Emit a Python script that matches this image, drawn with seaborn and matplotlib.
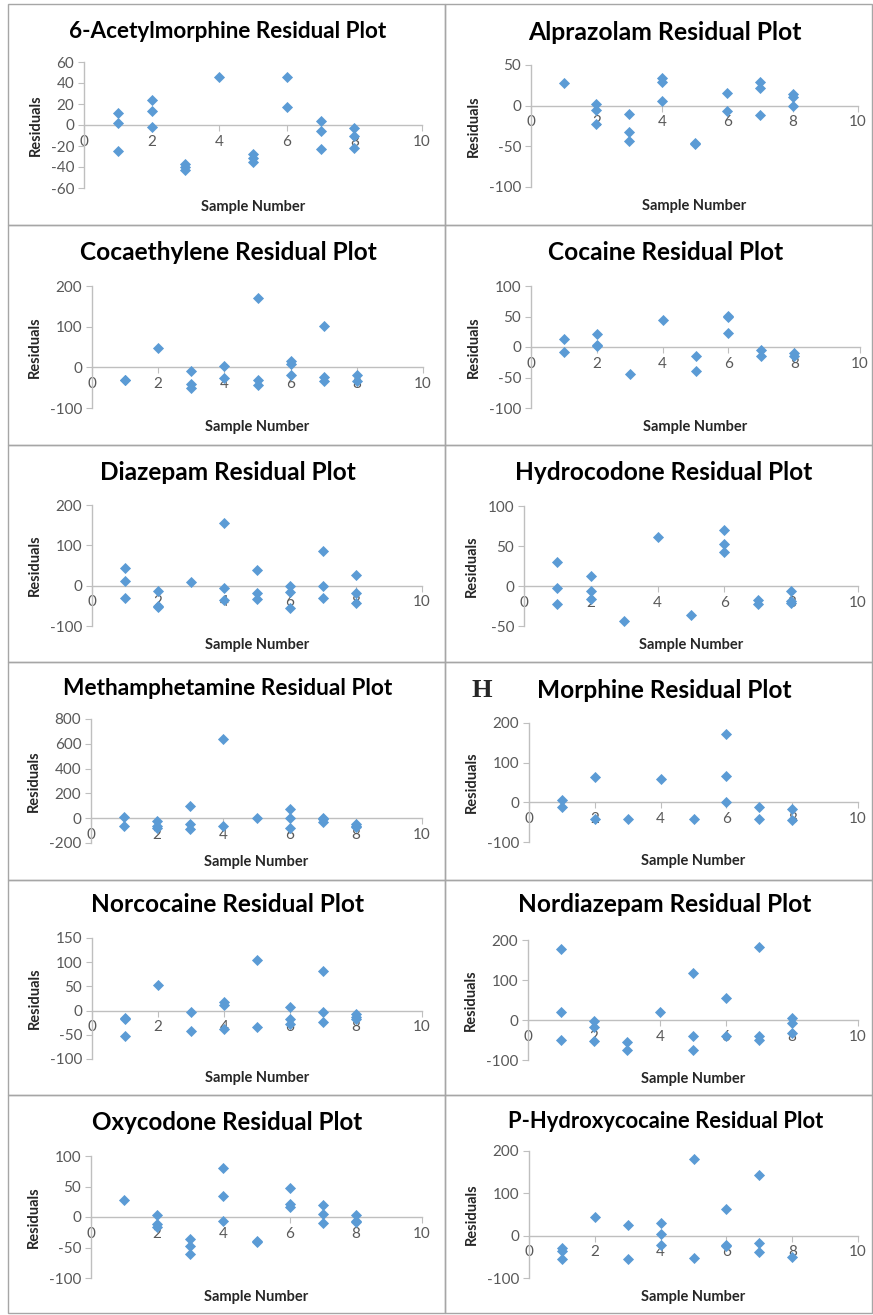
import matplotlib
matplotlib.use('Agg')
import matplotlib.pyplot as plt
import seaborn as sns
from matplotlib.patches import Rectangle

# residuals per sample number
acetylmorphine_x = [1, 1, 1, 2, 2, 2, 3, 3, 3, 4, 5, 5, 5, 6, 6, 7, 7, 7, 8, 8, 8]
acetylmorphine_y = [11, 2, -25, 24, 13, -2, -37, -40, -43, 46, -28, -31, -35, 46, 17, 4, -6, -23, -3, -10, -22]

alprazolam_x = [1, 2, 2, 2, 3, 3, 3, 4, 4, 4, 5, 5, 6, 6, 7, 7, 7, 8, 8, 8]
alprazolam_y = [28, 2, -5, -22, -10, -32, -43, 34, 29, 6, -46, -47, 15, -6, 29, 22, -12, 14, 11, 0]

cocaethylene_x = [1, 1, 2, 3, 3, 3, 4, 4, 5, 5, 5, 6, 6, 6, 7, 7, 7, 8, 8]
cocaethylene_y = [-31, -32, 47, -9, -42, -50, 3, -25, 171, -31, -43, 16, 7, -19, 102, -24, -34, -18, -33]

cocaine_x = [1, 1, 2, 2, 2, 3, 4, 5, 5, 6, 6, 6, 7, 7, 8, 8]
cocaine_y = [13, -8, 21, 4, 2, -45, 45, -15, -39, 51, 49, 23, -5, -14, -10, -14]

diazepam_x = [1, 1, 1, 2, 2, 2, 3, 4, 4, 4, 5, 5, 5, 6, 6, 6, 7, 7, 7, 8, 8, 8]
diazepam_y = [45, 12, -30, -13, -50, -54, 10, 156, -6, -35, 39, -17, -34, -1, -16, -56, 87, -1, -31, 27, -17, -44]

hydrocodone_x = [1, 1, 1, 2, 2, 2, 3, 4, 5, 6, 6, 6, 7, 7, 8, 8, 8]
hydrocodone_y = [30, -3, -23, 12, -6, -16, -44, 61, -36, 70, 52, 42, -17, -23, -6, -19, -21]

methamphetamine_x = [1, 1, 2, 2, 2, 3, 3, 3, 4, 4, 5, 6, 6, 6, 7, 7, 7, 8, 8, 8]
methamphetamine_y = [10, -60, -25, -60, -80, 100, -50, -90, 635, -65, 5, 75, 5, -80, 5, -10, -30, -45, -60, -70]

morphine_x = [1, 1, 2, 2, 3, 4, 5, 6, 6, 6, 7, 7, 8, 8]
morphine_y = [7, -13, 65, -42, -41, 58, -43, 173, 67, 0, -12, -43, -17, -45]

norcocaine_x = [1, 1, 1, 2, 3, 3, 4, 4, 4, 5, 5, 6, 6, 6, 7, 7, 7, 8, 8, 8]
norcocaine_y = [-16, -18, -53, 52, -3, -43, 17, 11, -38, 105, -33, 7, -17, -27, 82, -3, -23, -8, -13, -18]

nordiazepam_x = [1, 1, 1, 2, 2, 2, 3, 3, 4, 5, 5, 5, 6, 6, 7, 7, 7, 8, 8, 8]
nordiazepam_y = [177, 19, -49, -3, -17, -52, -55, -76, 21, 117, -41, -74, 54, -40, 182, -40, -50, 5, -8, -32]

oxycodone_x = [1, 2, 2, 2, 3, 3, 3, 4, 4, 4, 5, 5, 6, 6, 6, 7, 7, 7, 8, 8, 8]
oxycodone_y = [28, 3, -11, -17, -36, -47, -61, 80, 35, -7, -39, -41, 47, 21, 16, 20, 5, -10, 4, -7, -8]

p_hydroxycocaine_x = [1, 1, 1, 2, 3, 3, 4, 4, 4, 5, 5, 6, 6, 6, 7, 7, 7, 8]
p_hydroxycocaine_y = [-30, -37, -55, 44, 25, -54, 30, 5, -21, 182, -53, 63, -22, -25, 143, -17, -39, -50]

W, H = 873, 1315
BLUE = '#5B9BD5'
AXIS_GREY = '#BFBFBF'
LABEL_GREY = '#595959'

sns.set_style('white')
plt.rcParams['font.family'] = ['Lato', 'DejaVu Sans']
plt.rcParams['axes.unicode_minus'] = False

# (title, x, y, ymin, ymax, step, plot area in pixels l/r/t/b, title centre px, title size)
panels = [
    ('6-Acetylmorphine Residual Plot', acetylmorphine_x, acetylmorphine_y, -60, 60, 20, (84, 422, 62, 188), (228, 32), 16.2),
    ('Alprazolam Residual Plot', alprazolam_x, alprazolam_y, -100, 50, 50, (531, 858, 65, 187), (665, 33), 17.8),
    ('Cocaethylene Residual Plot', cocaethylene_x, cocaethylene_y, -100, 200, 100, (92, 423, 286, 408), (228, 252), 17.6),
    ('Cocaine Residual Plot', cocaine_x, cocaine_y, -100, 100, 50, (531, 860, 286, 408), (666, 253), 17.6),
    ('Diazepam Residual Plot', diazepam_x, diazepam_y, -100, 200, 100, (92, 422, 505, 626), (228, 472), 17.6),
    ('Hydrocodone Residual Plot', hydrocodone_x, hydrocodone_y, -50, 100, 50, (524, 858, 506, 626), (664, 472), 17.6),
    ('Methamphetamine Residual Plot', methamphetamine_x, methamphetamine_y, -200, 800, 200, (91, 422, 719, 843), (228, 688), 16.3),
    ('Morphine Residual Plot', morphine_x, morphine_y, -100, 200, 100, (529, 858, 723, 842), (664, 690), 17.6),
    ('Norcocaine Residual Plot', norcocaine_x, norcocaine_y, -100, 150, 50, (92, 422, 938, 1059), (228, 905), 17.6),
    ('Nordiazepam Residual Plot', nordiazepam_x, nordiazepam_y, -100, 200, 100, (528, 858, 940, 1060), (665, 905), 17.6),
    ('Oxycodone Residual Plot', oxycodone_x, oxycodone_y, -100, 100, 50, (91, 422, 1156, 1278), (227, 1122), 17.4),
    ('P-Hydroxycocaine Residual Plot', p_hydroxycocaine_x, p_hydroxycocaine_y, -100, 200, 100, (529, 858, 1151, 1278), (666, 1121), 15.8),
]

fig = plt.figure(figsize=(W / 100, H / 100), dpi=100)

# panel frames, one cell per chart
col_edges = [(8, 445), (445, 872)]
row_edges = [4, 225, 445, 662, 880, 1095, 1313]
for r in range(6):
    for c in range(2):
        x0, x1 = col_edges[c]
        y0, y1 = row_edges[r], row_edges[r + 1]
        fig.add_artist(Rectangle((x0 / W, 1 - y1 / H), (x1 - x0) / W, (y1 - y0) / H,
                                 transform=fig.transFigure, fill=False,
                                 edgecolor='#A6A6A6', linewidth=1.0))

for title, xs, ys, ymin, ymax, step, box, tpos, tsize in panels:
    l, r, t, b = box
    ax = fig.add_axes([l / W, 1 - b / H, (r - l) / W, (b - t) / H])
    sns.scatterplot(x=xs, y=ys, ax=ax, marker='D', color=BLUE, s=32,
                    linewidth=0, zorder=3, clip_on=False)
    ax.set_xlim(0, 10)
    ax.set_ylim(ymin, ymax)
    ax.set_xticks(range(0, 11, 2))
    ax.set_yticks(range(ymin, ymax + 1, step))
    ax.spines['top'].set_visible(False)
    ax.spines['right'].set_visible(False)
    ax.spines['bottom'].set_position(('data', 0))
    for s in ('left', 'bottom'):
        ax.spines[s].set_color(AXIS_GREY)
        ax.spines[s].set_linewidth(1.0)
    ax.tick_params(axis='both', direction='out', length=4, width=0.8, color=AXIS_GREY,
                   labelcolor=LABEL_GREY, labelsize=11, bottom=True, left=True, pad=3)
    ax.patch.set_alpha(0)
    ax.set_ylabel('Residuals', fontsize=10.5, fontweight='bold', color='#262626', labelpad=6)
    ax.set_xlabel('Sample Number', fontsize=10.5, fontweight='bold', color='#262626')
    ax.xaxis.set_label_coords(0.5, -12 / (b - t))
    fig.text(tpos[0] / W, 1 - tpos[1] / H, title, ha='center', va='center',
             fontsize=tsize, fontweight='bold', color='black')

# stray panel letter on the morphine chart
fig.text(482 / W, 1 - 690 / H, 'H', ha='center', va='center', fontsize=19,
         fontweight='bold', family=['Liberation Serif', 'DejaVu Serif'])

fig.savefig('out.png', dpi=100)
